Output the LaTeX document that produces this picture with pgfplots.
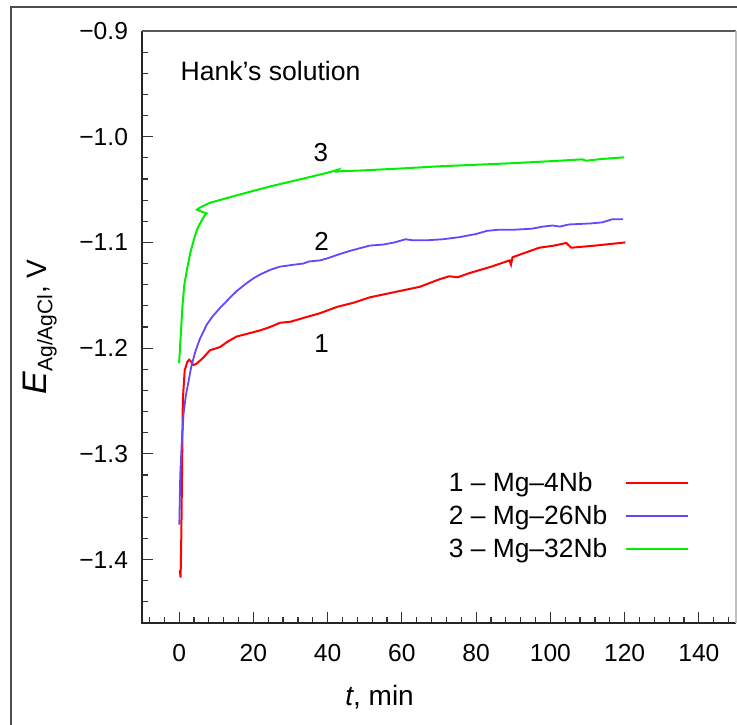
\documentclass[border=0pt]{standalone}
\usepackage{pgfplots}
\pgfplotsset{compat=1.18}
\usepackage{fontspec}
\setmainfont{Liberation Sans}
\definecolor{c1}{RGB}{255,0,0}
\definecolor{c2}{RGB}{100,70,255}
\definecolor{c3}{RGB}{0,240,0}
\begin{document}
\begin{tikzpicture}
\begin{axis}[
    name=ax,
    scale only axis,
    width=297pt,
    height=296pt,
    xmin=-10, xmax=150,
    ymin=-1.46, ymax=-0.9,
    axis line style={draw=none},
    tick align=inside,
    xtick pos=bottom, ytick pos=left,
    xtick={0,20,...,140},
    minor xtick={-8,-4,...,148},
    ytick={-1.4,-1.3,-1.2,-1.1,-1.0,-0.9},
    yticklabels={−1.4,−1.3,−1.2,−1.1,−1.0,−0.9},
    minor ytick={-1.44,-1.42,...,-0.91},
    major tick length=5.5pt,
    minor tick length=2.8pt,
    tick style={black!80, line width=0.6pt},
    /pgf/number format/assume math mode=true,
    tick label style={font=\fontsize{12.3}{14}\selectfont},
    yticklabel style={xshift=-3.5pt},
    xticklabel style={yshift=-7pt},
    xlabel={\textit{t}, min},
    ylabel={{\fontsize{17}{18}\selectfont\textit{E}}\textsubscript{\fontsize{10.5}{11}\selectfont Ag/AgCl}, V},
    label style={font=\fontsize{14}{16}\selectfont},
    xlabel style={at={(axis description cs:0.40,-0.1385)}, anchor=base},
    ylabel style={at={(axis description cs:-0.16,0.5)}, anchor=base},
    legend plot pos=right,
    legend image code/.code={\draw[#1] (0pt,0pt) -- (31pt,0pt);},
    legend cell align=left,
    legend style={at={(axis description cs:0.50,0.268)}, anchor=north west,
        draw=none, fill=none, font=\fontsize{13.2}{15}\selectfont,
        row sep=2pt, nodes={inner sep=1.7pt},
        /tikz/every odd column/.append style={column sep=7pt}},
    clip=false,
]
% box lines
\draw[black!85, line width=0.8pt] (rel axis cs:0,1) -- (rel axis cs:0,0) -- (rel axis cs:1,0);
\draw[black!65, line width=0.8pt] (rel axis cs:0,1) -- (rel axis cs:1,1);
\draw[black!25, line width=0.6pt] (rel axis cs:1,1) -- (rel axis cs:1,0);

% 1 - Mg-4Nb
\addplot[c1, line width=1pt] coordinates {
(0.2,-1.410) (0.4,-1.417) (0.6,-1.375) (0.8,-1.312) (1.0,-1.249) (1.5,-1.221)
(2.2,-1.213) (2.7,-1.211) (3.3,-1.213) (3.8,-1.216) (4.6,-1.215) (6.5,-1.209)
(8.3,-1.202) (11,-1.199) (13,-1.194) (15.5,-1.189) (19.9,-1.185) (22,-1.183)
(24.5,-1.180) (27.2,-1.176) (30,-1.175) (33.4,-1.1715) (37.9,-1.167) (42.5,-1.161)
(47,-1.157) (51.3,-1.152) (58,-1.147) (64.8,-1.142) (70,-1.135) (72.8,-1.132)
(75,-1.133) (78.2,-1.129) (84,-1.123) (89,-1.117) (89.4,-1.121) (89.8,-1.114)
(93,-1.110) (97,-1.105) (101,-1.103) (104.3,-1.1005) (105.6,-1.105) (112,-1.103)
(120.2,-1.100)
};
\addlegendentry{1 – Mg–4Nb}

% 2 - Mg-26Nb
\addplot[c2, line width=0.9pt] coordinates {
(0.05,-1.367) (0.3,-1.320) (0.7,-1.290) (1.2,-1.262) (1.8,-1.245) (2.5,-1.232)
(3.3,-1.217) (4.3,-1.204) (5.5,-1.192) (7.4,-1.178) (9,-1.170) (11,-1.162)
(13.5,-1.153) (15.5,-1.146) (18,-1.139) (20,-1.134) (22,-1.130) (24.5,-1.126)
(27,-1.123) (29,-1.122) (31,-1.121) (33.4,-1.120) (35,-1.118) (37.9,-1.117)
(40,-1.115) (42.4,-1.112) (46,-1.108) (51.3,-1.103) (55,-1.102) (58,-1.100)
(61,-1.097) (63,-1.098) (66.6,-1.098) (71,-1.097) (75.5,-1.095) (80,-1.092)
(83,-1.089) (86,-1.088) (90,-1.088) (95,-1.087) (98,-1.085) (100.6,-1.084)
(102.5,-1.085) (105,-1.083) (111,-1.082) (114,-1.081) (116.7,-1.078) (119.6,-1.078)
};
\addlegendentry{2 – Mg–26Nb}

% 3 - Mg-32Nb
\addplot[c3, line width=1pt] coordinates {
(0,-1.214) (0.4,-1.190) (0.9,-1.160) (1.4,-1.140) (2.1,-1.126) (3,-1.110)
(4,-1.097) (4.8,-1.088) (6.1,-1.079) (7,-1.074) (7.4,-1.0725) (6.1,-1.071)
(4.8,-1.069) (5.6,-1.067) (8.3,-1.0625) (16,-1.055) (24.5,-1.047) (33,-1.040)
(40,-1.034) (43,-1.031) (42.5,-1.033) (44,-1.0325) (48.7,-1.032) (60,-1.030)
(70,-1.028) (78.2,-1.0268) (90,-1.025) (102.4,-1.0227) (108.6,-1.0214)
(109.6,-1.0227) (114,-1.021) (119.9,-1.0195)
};
\addlegendentry{3 – Mg–32Nb}

\node[font=\fontsize{13}{15}\selectfont, inner sep=0pt] at (axis cs:38.2,-1.0154) {3};
\node[font=\fontsize{13}{15}\selectfont, inner sep=0pt] at (axis cs:38.4,-1.0987) {2};
\node[font=\fontsize{13}{15}\selectfont, inner sep=0pt] at (axis cs:38.4,-1.1952) {1};
\node[font=\fontsize{13.3}{15}\selectfont, inner sep=0pt, anchor=base west] at (axis cs:0.3,-0.9464) {Hank’s solution};
\end{axis}
% outer frame
\draw[black!70, line width=1.2pt] ([shift={(-65.5pt,-60pt)}]ax.south west) -- ([shift={(-65.5pt,308pt)}]ax.south west) -- ([shift={(310pt,308pt)}]ax.south west);
\pgfresetboundingbox
\path[use as bounding box] ([shift={(-71pt,-50.5pt)}]ax.south west) rectangle ([shift={(297.5pt,311.5pt)}]ax.south west);
\end{tikzpicture}
\end{document}
